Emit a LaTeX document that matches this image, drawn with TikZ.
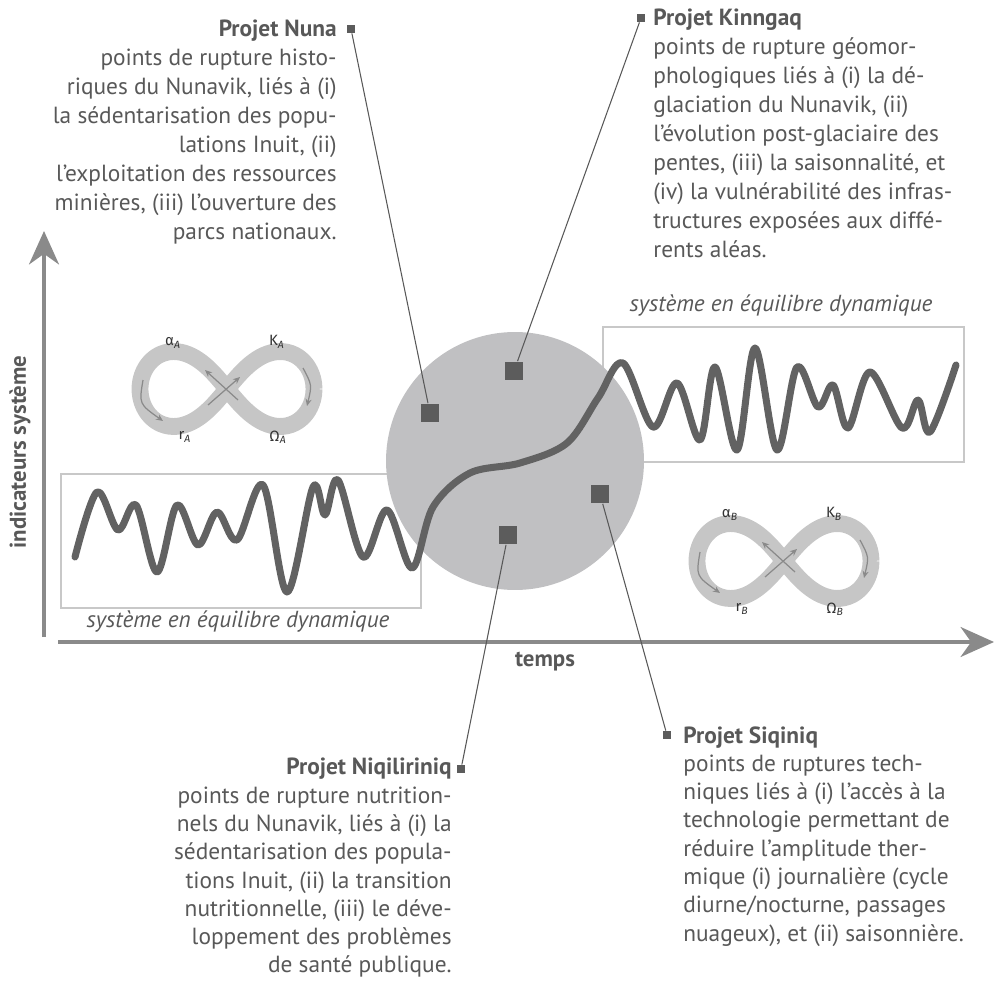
\documentclass[tikz,border=0pt]{standalone}
\usepackage{fontspec}
\setmainfont{PT Sans}
\newfontfamily\greekfont{Fira Sans}
\usetikzlibrary{arrows.meta}
\definecolor{inkgray}{RGB}{88,88,88}
\definecolor{sqgray}{RGB}{92,92,92}
\definecolor{wavegray}{RGB}{98,98,98}
\definecolor{axisgray}{RGB}{138,138,138}
\definecolor{boxgray}{RGB}{200,200,200}
\definecolor{discgray}{RGB}{192,192,194}
\definecolor{loopgray}{RGB}{198,198,198}

\newcommand{\cycleloop}[3]{%
  \begin{scope}[shift={(#1,#2)}]
    \draw[loopband] plot[domain=0:360, samples=120, smooth]
        ({87*cos(\x)/(1+sin(\x)^2)},{106*sin(\x)*cos(\x)/(1+sin(\x)^2)});
    \draw[looparrow] (-84,-9) .. controls (-88,15) .. (-64,32);
    \draw[looparrow] (76,-21) .. controls (85,-4) .. (80,17);
    \draw[looparrow] (11,11) -- (-22,-19);
    \draw[looparrow] (-19,16) -- (13,-12);
    \node[looplabel] (alpha#3) at (-54,-46) {α\textsubscript{\itshape #3}};
    \node[looplabel] (kappa#3) at (50,-47) {K\textsubscript{\itshape #3}};
    \node[looplabel] (r#3) at (-42,48) {r\textsubscript{\itshape #3}};
    \node[looplabel] (omega#3) at (51,48) {Ω\textsubscript{\itshape #3}};
  \end{scope}}

\begin{document}
\begin{tikzpicture}[x=0.02cm, y=-0.02cm,
    body/.style={text=inkgray, inner sep=0, font=\fontsize{13.3}{16.5}\selectfont},
    lowbody/.style={body, font=\fontsize{13.3}{16.1}\selectfont},
    sq/.style={fill=sqgray, inner sep=0, minimum size=10.8pt},
    marker/.style={fill=sqgray, inner sep=0, minimum size=4.6pt},
    leader/.style={draw=inkgray, line width=0.6pt},
    axis/.style={draw=axisgray, line width=2.3pt, -{Stealth[length=19pt, width=17pt, inset=6pt]}},
    axlabel/.style={text=inkgray, font=\fontsize{13}{15}\selectfont\bfseries},
    eqbox/.style={draw=boxgray, line width=1.1pt},
    eqlabel/.style={text=inkgray, font=\fontsize{13.2}{15}\selectfont\itshape},
    wave/.style={draw=wavegray, line width=4pt, line cap=round, line join=round},
    loopband/.style={draw=loopgray, line width=9.6pt},
    looparrow/.style={draw=axisgray, line width=0.7pt, -{Stealth[length=4pt, width=3.5pt]}},
    looplabel/.style={text=black!80, inner sep=0, font=\greekfont\fontsize{8.5}{9}\selectfont}]
    \useasboundingbox (0,0) rectangle (994,983);

    \coordinate (ybot) at (44,637);
    \coordinate (ytop) at (44,231);
    \coordinate (xleft) at (58,642);
    \coordinate (xright) at (994,642);
    \draw[axis] (ybot) -- (ytop);
    \draw[axis] (xleft) -- (xright);
    \node[axlabel] (temps) at (545,662) {temps};
    \node[axlabel, rotate=90] (indic) at (20,452) {indicateurs système};

    \draw[eqbox] (61,474) rectangle (421,608);
    \draw[eqbox] (603,327) rectangle (964,462);
    \node[eqlabel] (eqleft) at (238,622) {système en équilibre dynamique};
    \node[eqlabel] (eqright) at (781,306) {système en équilibre dynamique};

    \cycleloop{227}{389}{A}
    \cycleloop{784}{561}{B}

    \node[circle, fill=discgray, inner sep=0, minimum size=5.16cm] (disc) at (515,461) {};

    \draw[wave] plot[smooth, tension=0.55] coordinates {(75,557) (97,492) (118,530) (136,505)
        (157,572) (177,505) (198,545) (217,512) (237,540) (263,485) (287,592) (313,487) (325,515)
        (338,480) (363,557) (387,510) (412,568) (433,507) (470,473) (520,463) (567,443) (598,398)
        (623,363) (653,427) (677,383) (700,440) (715,367) (737,450) (755,348) (777,450) (797,367)
        (818,407) (833,385) (848,428) (870,372) (902,428) (918,400) (930,432) (956,365)};

    \node[sq] (sqnuna) at (430,413) {};
    \node[sq] (sqkinngaq) at (514,371) {};
    \node[sq] (sqniqil) at (508,535) {};
    \node[sq] (sqsiqiniq) at (600,494) {};

    \node[marker] (mknuna) at (351,29) {};
    \node[marker] (mkkinngaq) at (641,18) {};
    \node[marker] (mkniqil) at (461,769) {};
    \node[marker] (mksiqiniq) at (667,735) {};

    \draw[leader] (mknuna) -- (sqnuna);
    \draw[leader] (mkkinngaq) -- (sqkinngaq);
    \draw[leader] (mkniqil) -- (sqniqil);
    \draw[leader] (mksiqiniq) -- (sqsiqiniq);

    \node[body, align=right, anchor=north east] (nuna) at (337,20) {\textbf{Projet Nuna}\\
        points de rupture histo-\\riques du Nunavik, liés à (i)\\la sédentarisation des popu-\\
        lations Inuit, (ii)\\l’exploitation des ressources\\minières, (iii) l’ouverture des\\
        parcs nationaux.};
    \node[body, align=left, anchor=north west] (kinngaq) at (653,9) {\textbf{Projet Kinngaq}\\
        points de rupture géomor-\\phologiques liés à (i) la dé-\\glaciation du Nunavik, (ii)\\
        l’évolution post-glaciaire des\\pentes, (iii) la saisonnalité, et\\
        (iv) la vulnérabilité des infras-\\tructures exposées aux diffé-\\rents aléas.};
    \node[lowbody, align=right, anchor=north east] (niqil) at (452,758) {\textbf{Projet Niqiliriniq}\\
        points de rupture nutrition-\\nels du Nunavik, liés à (i) la\\sédentarisation des popula-\\
        tions Inuit, (ii) la transition\\nutritionnelle, (iii) le déve-\\loppement des problèmes\\
        de santé publique.};
    \node[lowbody, align=left, anchor=north west] (siqiniq) at (683,726) {\textbf{Projet Siqiniq}\\
        points de ruptures tech-\\niques liés à (i) l’accès à la\\technologie permettant de\\
        réduire l’amplitude ther-\\mique (i) journalière (cycle\\diurne/nocturne, passages\\
        nuageux), et (ii) saisonnière.};
\end{tikzpicture}
\end{document}
